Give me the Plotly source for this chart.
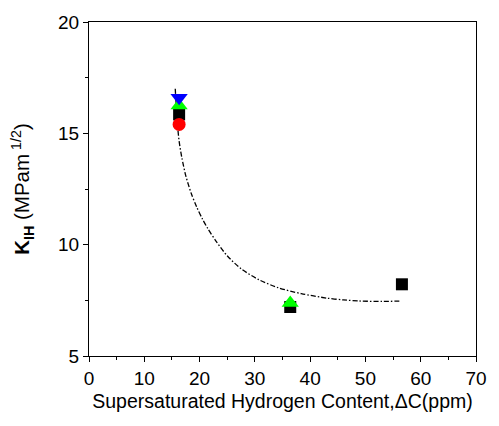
import plotly.graph_objects as go

# data
sq_x = [16.3, 36.4, 56.6]
sq_y = [15.85, 7.2, 8.22]
circ_x = [16.3]
circ_y = [15.4]
tri_up_x = [16.3, 36.4]
tri_up_y = [16.25, 7.38]
tri_dn_x = [16.3]
tri_dn_y = [16.6]

fit_x = [15.6, 15.8, 16.0, 16.3, 16.8, 17.5, 18.5, 19.5, 20.5, 21.5, 23.0, 25.0,
         27.5, 30.7, 34.3, 38.4, 43.0, 46.0, 49.0, 53.0, 56.5]
fit_y = [17.0, 16.15, 15.4, 14.65, 13.9, 13.1, 12.3, 11.68, 11.16, 10.72, 10.15, 9.5,
         8.92, 8.43, 8.06, 7.80, 7.60, 7.52, 7.47, 7.45, 7.47]

fig = go.Figure()
fig.add_trace(go.Scatter(x=fit_x, y=fit_y, mode="lines", line_shape="spline",
                         line=dict(color="black", width=1.3, dash="5px,2px,1.5px,2px", smoothing=0.8),
                         showlegend=False))
fig.add_trace(go.Scatter(x=sq_x, y=sq_y, mode="markers",
                         marker=dict(symbol="square", size=12, color="black"), showlegend=False))
fig.add_trace(go.Scatter(x=circ_x, y=circ_y, mode="markers",
                         marker=dict(symbol="circle", size=13, color="red"), showlegend=False))
fig.add_trace(go.Scatter(x=tri_up_x, y=tri_up_y, mode="markers",
                         marker=dict(symbol="triangle-up", size=15, color="#00ff00"), showlegend=False))
fig.add_trace(go.Scatter(x=tri_dn_x, y=tri_dn_y, mode="markers",
                         marker=dict(symbol="triangle-down", size=15, color="#0000ff"), showlegend=False))

font_family = "Liberation Sans, Arial, sans-serif"
fig.update_layout(
    width=499, height=426,
    margin=dict(l=89, r=12, t=16, b=70),
    paper_bgcolor="white", plot_bgcolor="white",
    font=dict(family=font_family, size=19, color="black"),
    xaxis=dict(range=[0, 70], tickmode="linear", tick0=0, dtick=10,
               ticks="outside", ticklen=5, tickwidth=1, tickcolor="black",
               minor=dict(ticks="outside", ticklen=3, dtick=5, tickcolor="black"),
               showline=True, linecolor="black", linewidth=1, mirror=True,
               showgrid=False, zeroline=False,
               tickfont=dict(size=19),
               title=dict(text="Supersaturated Hydrogen Content,ΔC(ppm)", font=dict(size=19.5), standoff=6)),
    yaxis=dict(range=[5, 20], tickmode="linear", tick0=5, dtick=5,
               ticks="outside", ticklen=5, tickwidth=1, tickcolor="black",
               minor=dict(ticks="outside", ticklen=3, dtick=2.5, tickcolor="black"),
               showline=True, linecolor="black", linewidth=1, mirror=True,
               showgrid=False, zeroline=False,
               tickfont=dict(size=19),
               title=dict(text="<b>K</b><sub><b>IH</b></sub> (MPam<sup> 1/2</sup>)", font=dict(size=20.5), standoff=22)),
)
fig.write_html("out.html")
